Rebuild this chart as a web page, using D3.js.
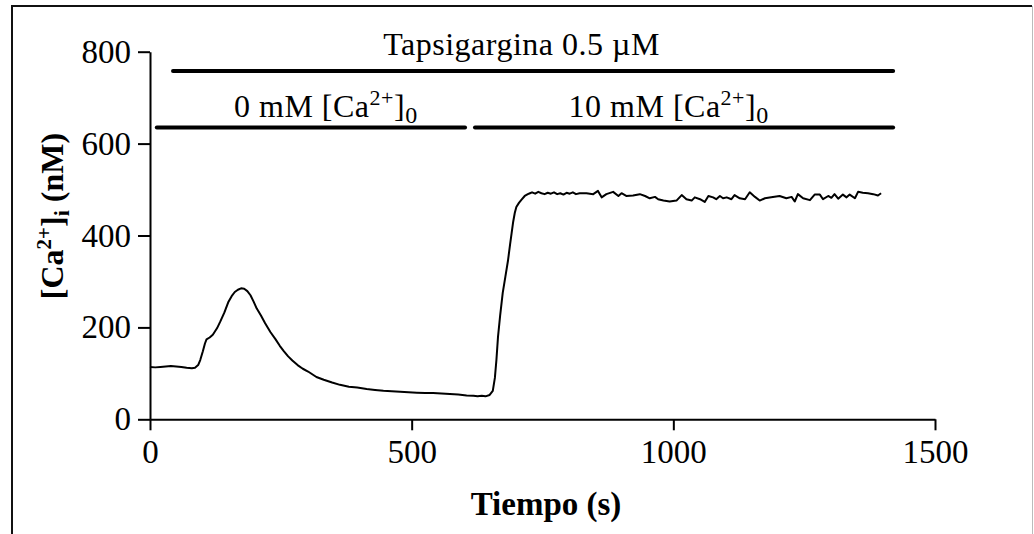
<!DOCTYPE html>
<html>
<head>
<meta charset="utf-8">
<script src="https://cdn.jsdelivr.net/npm/d3@7"></script>
<style>
  body { margin: 0; background: #fff; }
  svg { display: block; }
  text { font-family: "Liberation Serif", "Times New Roman", serif; fill: #000; }
</style>
</head>
<body>
<script>
// trace: time (s) and [Ca2+]i (nM)
var time = [0, 10, 20, 30, 40, 50, 60, 70, 80, 86, 92, 96, 101, 105, 108, 114, 120, 128, 134, 142,
  150, 156, 162, 168, 174, 180, 186, 192, 198, 204, 212, 220, 230, 240, 248, 256, 264, 272, 282, 292,
  302, 318, 332, 348, 363, 380, 396, 414, 430, 446, 462, 478, 494, 510, 526, 541, 557, 573, 589, 605,
  618, 626, 634, 641, 649, 655, 659, 662, 665, 669, 674, 679, 684, 688, 691, 694, 697, 700, 705, 710,
  716, 722, 726, 730, 736, 742, 748, 754, 760, 766, 772, 778, 784, 790, 796, 802, 808, 814,
  821, 834, 847, 856, 863, 872, 885, 895, 901, 910, 923, 936, 946, 955, 965, 971, 981, 993, 1006, 1016,
  1025, 1035, 1041, 1051, 1060, 1067, 1076, 1082, 1089, 1095, 1102, 1111, 1117, 1127, 1137, 1146, 1156, 1165, 1175, 1187,
  1203, 1216, 1226, 1232, 1238, 1248, 1261, 1270, 1280, 1286, 1296, 1302, 1308, 1315, 1324, 1331, 1337, 1347, 1353, 1362,
  1372, 1382, 1391, 1397];
var calcium = [114, 113, 114, 115, 116, 115, 114, 112, 111, 112, 118, 129, 148, 165, 174, 178, 184, 198, 212, 232,
  256, 268, 277, 282, 285, 284, 279, 270, 256, 241, 226, 209, 190, 174, 160, 148, 137, 128, 118, 110,
  104, 92, 86, 80, 75, 71, 69, 66, 64, 62, 61, 60, 59, 58, 57, 57, 56, 55, 54, 52,
  51, 50, 51, 50, 53, 62, 90, 130, 180, 225, 275, 310, 345, 380, 405, 430, 449, 462, 471, 478,
  486, 490, 492, 494, 491, 495, 492, 490, 493, 491, 494, 490, 492, 489, 493, 491, 494, 490,
  492, 492, 490, 497, 483, 490, 495, 486, 492, 486, 487, 490, 486, 481, 484, 479, 476, 474, 476, 488,
  479, 476, 483, 479, 473, 486, 483, 479, 486, 481, 483, 479, 488, 481, 479, 494, 484, 476, 481, 483,
  486, 481, 484, 474, 490, 481, 477, 489, 489, 479, 486, 482, 490, 480, 489, 483, 489, 481, 495, 493,
  492, 490, 487, 492];

var xTicks = [0, 500, 1000, 1500];
var yTicks = [0, 200, 400, 600, 800];

// treatment bars: name, start / end (s), level (nM), label centre (s)
var barNames = ["Tapsigargina", "0 mM", "10 mM"];
var barStart = [44, 13, 621];
var barEnd = [1420, 602, 1420];
var barLevel = [758, 635, 635];
var barLabelAt = [710, 336, 991];

var width = 1034, height = 534;

var svg = d3.select("body")
  .append("svg")
  .attr("width", width)
  .attr("height", height);

// frame
svg.append("path")
  .attr("d", "M12,540 L12,6 L1032,6")
  .attr("fill", "none")
  .attr("stroke", "#111")
  .attr("stroke-width", 2);
svg.append("line")
  .attr("x1", 1032.5).attr("x2", 1032.5)
  .attr("y1", 6).attr("y2", 540)
  .attr("stroke", "#bbb")
  .attr("stroke-width", 1);

var x = d3.scaleLinear().domain([0, 1500]).range([150, 935]);
var y = d3.scaleLinear().domain([0, 800]).range([419.3, 51.7]);

var xAxis = svg.append("g")
  .attr("transform", "translate(0," + y(0) + ")")
  .call(d3.axisBottom(x).tickValues(xTicks).tickFormat(d3.format("d"))
    .tickSize(11).tickSizeOuter(0).tickPadding(9));

var yAxis = svg.append("g")
  .attr("transform", "translate(" + x(0) + ",0)")
  .call(d3.axisLeft(y).tickValues(yTicks).tickFormat(d3.format("d"))
    .tickSize(12).tickSizeOuter(0).tickPadding(7));

[xAxis, yAxis].forEach(function(g) {
  g.select(".domain").attr("stroke", "#000").attr("stroke-width", 2);
  g.selectAll(".tick line").attr("stroke", "#000").attr("stroke-width", 2);
  g.selectAll(".tick text")
    .attr("fill", "#000")
    .style("font-family", "'Liberation Serif', 'Times New Roman', serif")
    .style("font-size", "33px");
});

// trace
var line = d3.line()
  .x(function(d, i) { return x(time[i]); })
  .y(function(d) { return y(d); });

svg.append("path")
  .datum(calcium)
  .attr("d", line)
  .attr("fill", "none")
  .attr("stroke", "#000")
  .attr("stroke-width", 2)
  .attr("stroke-linejoin", "round");

// treatment bars
svg.append("g")
  .selectAll("line")
  .data(barNames)
  .enter()
  .append("line")
  .attr("x1", function(d, i) { return x(barStart[i]); })
  .attr("x2", function(d, i) { return x(barEnd[i]); })
  .attr("y1", function(d, i) { return y(barLevel[i]); })
  .attr("y2", function(d, i) { return y(barLevel[i]); })
  .attr("stroke", "#000")
  .attr("stroke-width", 4)
  .attr("stroke-linecap", "round");

function caText(t, prefix, mid, sub, size, supSize, subSize) {
  t.append("tspan").text(prefix + "[Ca");
  t.append("tspan").attr("dy", -size * 0.36).style("font-size", supSize + "px").text("2+");
  t.append("tspan").attr("dy", size * 0.36).text("]");
  t.append("tspan").attr("dy", size * 0.2).style("font-size", subSize + "px").text(sub);
  if (mid) t.append("tspan").attr("dy", -size * 0.2).text(mid);
}

barNames.forEach(function(name, i) {
  var t = svg.append("text")
    .attr("x", x(barLabelAt[i]))
    .attr("y", y(barLevel[i]) - (i === 0 ? 15.5 : 11))
    .attr("text-anchor", "middle")
    .style("font-size", "32px")
    .style("letter-spacing", "0.5px");
  if (i === 0) t.text("Tapsigargina 0.5 \u00b5M");
  else caText(t, name + " ", null, "0", 32, 22, 24);
});

// axis titles
svg.append("text")
  .attr("x", 546)
  .attr("y", 515)
  .attr("text-anchor", "middle")
  .style("font-size", "33px")
  .style("font-weight", "bold")
  .text("Tiempo (s)");

var yt = svg.append("text")
  .attr("transform", "translate(63,216) rotate(-90)")
  .attr("text-anchor", "middle")
  .style("font-size", "32px")
  .style("font-weight", "bold");
caText(yt, "", " (nM)", "i", 32, 21, 22);
</script>
</body>
</html>
